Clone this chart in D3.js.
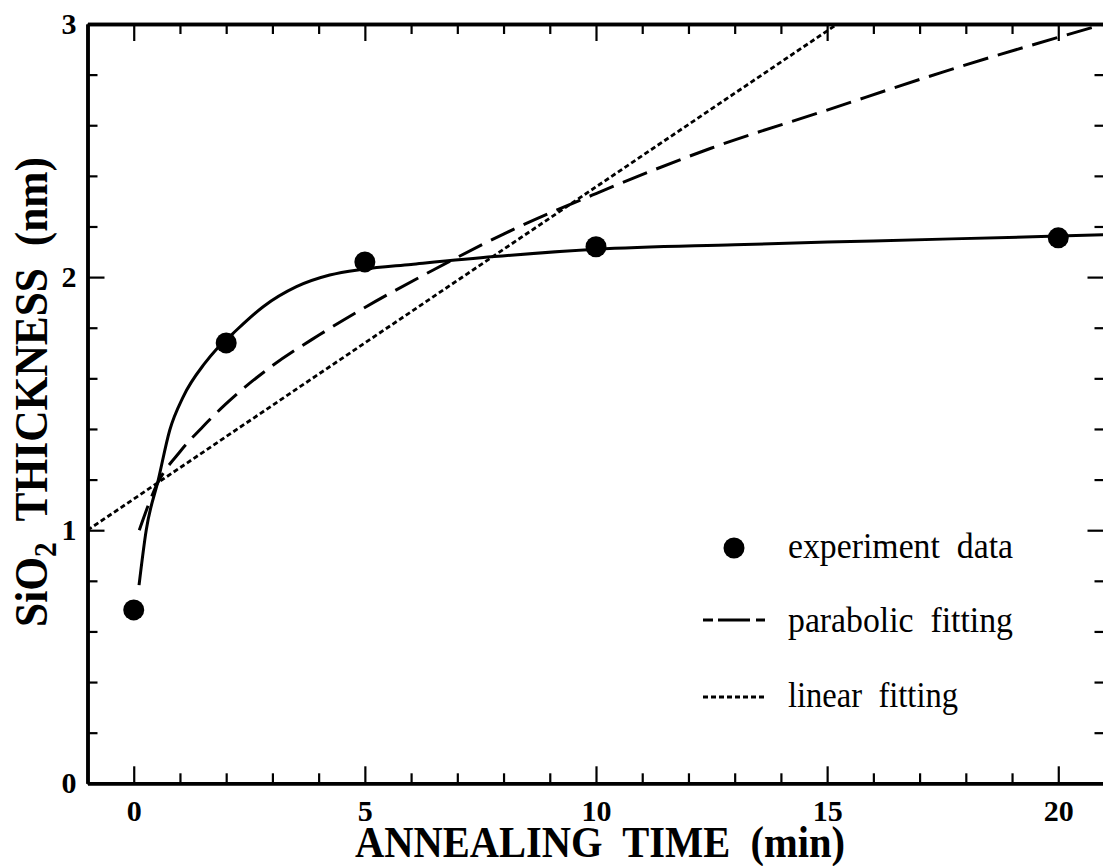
<!DOCTYPE html>
<html>
<head>
<meta charset="utf-8">
<script src="https://cdn.jsdelivr.net/npm/d3@7"></script>
<style>
  body { margin: 0; background: #fff; }
  svg text { white-space: pre; }
</style>
</head>
<body>
<div id="canvas"></div>
<script>
const canvas = d3.select("#canvas");
const serif = '"Liberation Serif", "Times New Roman", serif';

// experiment data
const expTime = [0, 2, 5, 10, 20];
const expThickness = [0.685, 1.74, 2.06, 2.12, 2.155];

// solid fit curve
const fitTime = [0.115, 0.27, 0.53, 0.78, 1.07, 1.535, 1.79, 2.15, 2.8, 3.52, 4.24, 4.96, 6.0, 7.8, 10, 13, 16, 20, 21];
const fitThickness = [0.783, 1.0, 1.198, 1.396, 1.527, 1.659, 1.715, 1.778, 1.883, 1.962, 2.008, 2.031, 2.05, 2.081, 2.11, 2.128, 2.143, 2.162, 2.167];

// parabolic fitting
const paraTime = [0.12, 0.5, 1, 1.5, 2, 3, 4, 5, 6.5, 8, 10, 12.5, 15, 17.5, 21];
const paraThickness = [1.0, 1.18, 1.31, 1.41, 1.5, 1.65, 1.77, 1.88, 2.03, 2.17, 2.33, 2.51, 2.66, 2.81, 3.0];

// linear fitting
const linTime = [-1, 15.22];
const linThickness = [1.0, 3.0];

const xMajor = [0, 5, 10, 15, 20];
const xMinor = [1, 2, 3, 4, 6, 7, 8, 9, 11, 12, 13, 14, 16, 17, 18, 19];
const yMajor = [0, 1, 2, 3];
const yMinor = [0.2, 0.4, 0.6, 0.8, 1.2, 1.4, 1.6, 1.8, 2.2, 2.4, 2.6, 2.8];

const legendLabels = ["experiment  data", "parabolic  fitting", "linear  fitting"];

const width = 1103;
const height = 866;
const margin = { top: 24, left: 87.5, bottom: 82.7, right: -1.5 };
const iwidth = width - margin.left - margin.right;
const iheight = height - margin.top - margin.bottom;

const svg = canvas.append("svg")
    .attr("width", width)
    .attr("height", height);

const g = svg.append("g").attr("transform", `translate(${margin.left},${margin.top})`);

const x = d3.scaleLinear().domain([-1, 21]).range([0, iwidth]);
const y = d3.scaleLinear().domain([0, 3]).range([iheight, 0]);

const zip = (a, b) => a.map((v, i) => [v, b[i]]);

g.append("clipPath").attr("id", "clip")
    .append("rect").attr("width", iwidth).attr("height", iheight);

const line = d3.line()
    .x(d => x(d[0]))
    .y(d => y(d[1]))
    .curve(d3.curveMonotoneX);

const curves = g.append("g").attr("clip-path", "url(#clip)");

curves.append("path")
    .datum(zip(linTime, linThickness))
    .attr("d", line)
    .attr("fill", "none")
    .attr("stroke", "#000")
    .attr("stroke-width", 2.8)
    .attr("stroke-dasharray", "5,3");

curves.append("path")
    .datum(zip(paraTime, paraThickness))
    .attr("d", line)
    .attr("fill", "none")
    .attr("stroke", "#000")
    .attr("stroke-width", 3)
    .attr("stroke-dasharray", "26,10");

curves.append("path")
    .datum(zip(fitTime, fitThickness))
    .attr("d", line)
    .attr("fill", "none")
    .attr("stroke", "#000")
    .attr("stroke-width", 3);

g.selectAll("circle.pt").data(zip(expTime, expThickness))
    .enter().append("circle")
    .attr("class", "pt")
    .attr("cx", d => x(d[0]))
    .attr("cy", d => y(d[1]))
    .attr("r", 10.5)
    .attr("fill", "#000");

// axes
const styleAxis = (sel, showText) => {
    sel.attr("font-family", serif).attr("font-size", 30).attr("font-weight", "bold");
    sel.select(".domain").attr("stroke-width", 3.5).attr("stroke", "#000");
    sel.selectAll(".tick line").attr("stroke-width", 2.2).attr("stroke", "#000");
    sel.selectAll(".tick text").attr("fill", "#000");
    if (!showText) sel.selectAll(".tick text").remove();
};

// bottom
g.append("g").attr("transform", `translate(0,${iheight})`)
    .call(d3.axisBottom(x).tickValues(xMinor).tickSize(-10).tickSizeOuter(0).tickFormat(""))
    .call(s => styleAxis(s, false));
g.append("g").attr("transform", `translate(0,${iheight})`)
    .call(d3.axisBottom(x).tickValues(xMajor).tickSize(-17).tickSizeOuter(0).tickPadding(16))
    .call(s => styleAxis(s, true));

// top
g.append("g")
    .call(d3.axisTop(x).tickValues(xMinor).tickSize(-10).tickSizeOuter(0).tickFormat(""))
    .call(s => styleAxis(s, false));
g.append("g")
    .call(d3.axisTop(x).tickValues(xMajor).tickSize(-17).tickSizeOuter(0).tickFormat(""))
    .call(s => styleAxis(s, false));

// left
g.append("g")
    .call(d3.axisLeft(y).tickValues(yMinor).tickSize(-10).tickSizeOuter(0).tickFormat(""))
    .call(s => styleAxis(s, false));
g.append("g")
    .call(d3.axisLeft(y).tickValues(yMajor).tickSize(-17).tickSizeOuter(0).tickPadding(11).tickFormat(d3.format("d")))
    .call(s => styleAxis(s, true));

// right
g.append("g").attr("transform", `translate(${iwidth},0)`)
    .call(d3.axisRight(y).tickValues(yMinor).tickSize(-10).tickSizeOuter(0).tickFormat(""))
    .call(s => styleAxis(s, false));
g.append("g").attr("transform", `translate(${iwidth},0)`)
    .call(d3.axisRight(y).tickValues(yMajor).tickSize(-17).tickSizeOuter(0).tickFormat(""))
    .call(s => styleAxis(s, false));

// axis titles
svg.append("text")
    .attr("x", 600)
    .attr("y", 857)
    .attr("text-anchor", "middle")
    .attr("textLength", 490)
    .attr("lengthAdjust", "spacingAndGlyphs")
    .attr("font-family", serif)
    .attr("font-size", 45)
    .attr("font-weight", "bold")
    .text("ANNEALING  TIME  (min)");

const yt = svg.append("text")
    .attr("transform", "translate(47,392) rotate(-90)")
    .attr("text-anchor", "middle")
    .attr("textLength", 470)
    .attr("lengthAdjust", "spacingAndGlyphs")
    .attr("font-family", serif)
    .attr("font-size", 46)
    .attr("font-weight", "bold");
yt.append("tspan").text("SiO");
yt.append("tspan").attr("dy", 9).attr("font-size", 31).text("2");
yt.append("tspan").attr("dy", -9).text("  THICKNESS  (nm)");

// legend
const legend = svg.append("g");
legend.append("circle").attr("cx", 734).attr("cy", 548).attr("r", 10.5).attr("fill", "#000");
legend.append("path").attr("d", "M703,620H765")
    .attr("stroke", "#000").attr("stroke-width", 3).attr("stroke-dasharray", "10,5,32,6,10");
legend.append("path").attr("d", "M703,697H765")
    .attr("stroke", "#000").attr("stroke-width", 2.8).attr("stroke-dasharray", "5,3");

const legendY = [558, 632, 707];
const legendLen = [225, 225, 170];
legend.selectAll("text.lg").data(legendLabels)
    .enter().append("text")
    .attr("class", "lg")
    .attr("x", 788)
    .attr("y", (d, i) => legendY[i])
    .attr("textLength", (d, i) => legendLen[i])
    .attr("lengthAdjust", "spacingAndGlyphs")
    .attr("font-family", serif)
    .attr("font-size", 36)
    .text(d => d);
</script>
</body>
</html>
